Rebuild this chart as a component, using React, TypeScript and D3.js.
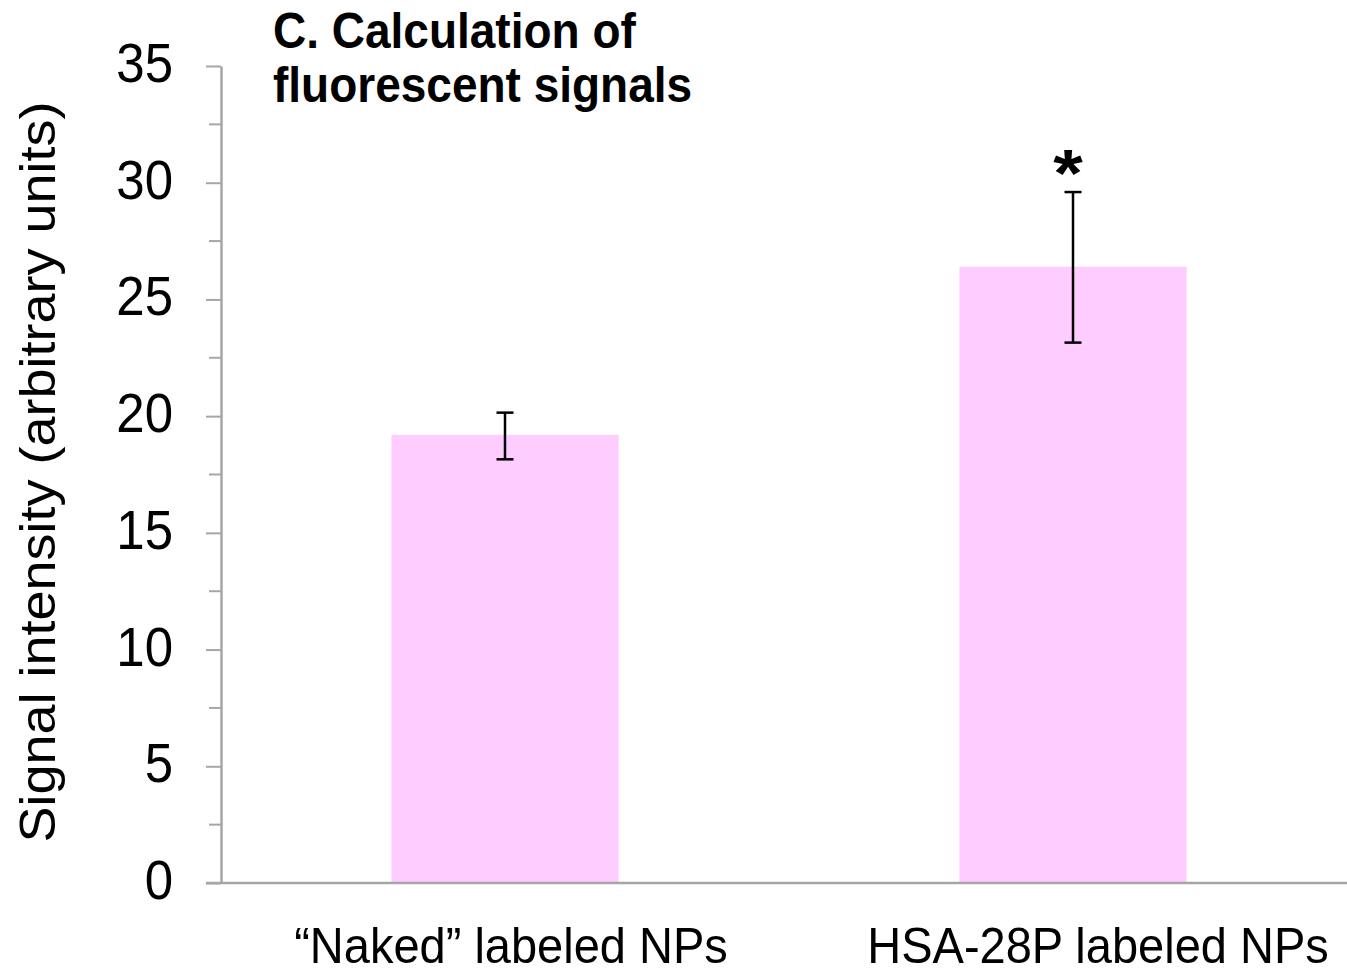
import React, { useRef, useEffect } from "react";
import * as d3 from "d3";

// chart data
const categories = ["\u201CNaked\u201D labeled NPs", "HSA-28P labeled NPs"];
const means = [19.2, 26.4];
const errLow = [18.15, 23.15];
const errHigh = [20.15, 29.6];
const significance = ["", "*"];
const yTicks = [0, 5, 10, 15, 20, 25, 30, 35];

const FONT = "Liberation Sans, Arial, sans-serif";
// the source picture is a bit stretched vertically
const STRETCH = 1.08;

function App() {
  const svgRef = useRef<SVGSVGElement>(null);
  const width = 1347;
  const height = 975;
  const margin = { top: 66, right: -10, bottom: 92, left: 221 };

  useEffect(() => {
    const svg = d3.select(svgRef.current);
    svg.selectAll("*").remove();

    const y = d3
      .scaleLinear()
      .domain([0, 35])
      .range([height - margin.bottom, margin.top]);
    const x = d3
      .scaleBand()
      .domain(categories)
      .range([margin.left, width - margin.right])
      .paddingInner(0.6)
      .paddingOuter(0.3);

    const axisColor = "#a6a6a6";

    // bars
    svg
      .selectAll(".bar")
      .data(categories)
      .enter()
      .append("rect")
      .attr("class", "bar")
      .attr("x", (d) => x(d)!)
      .attr("width", x.bandwidth())
      .attr("y", (_, i) => y(means[i]))
      .attr("height", (_, i) => y(0) - y(means[i]))
      .attr("fill", "#ffccff");

    // minor ticks
    const minor = d3.range(2.5, 35, 5);
    svg
      .selectAll(".minor")
      .data(minor)
      .enter()
      .append("line")
      .attr("x1", margin.left - 12)
      .attr("x2", margin.left)
      .attr("y1", (d) => y(d))
      .attr("y2", (d) => y(d))
      .attr("stroke", axisColor)
      .attr("stroke-width", 2);

    // y axis
    const yAxis = svg
      .append("g")
      .attr("transform", `translate(${margin.left},0)`)
      .call(d3.axisLeft(y).tickValues(yTicks).tickSize(15).tickPadding(33).tickSizeOuter(0));
    yAxis.select(".domain").attr("stroke", axisColor).attr("stroke-width", 2.5);
    yAxis.selectAll(".tick line").attr("stroke", axisColor).attr("stroke-width", 2);
    yAxis
      .selectAll(".tick text")
      .attr("fill", "#000")
      .attr("font-family", FONT)
      .attr("font-size", 51)
      .attr("dy", "0.28em")
      .attr("transform", `scale(1,${STRETCH})`);

    // x axis line
    svg
      .append("line")
      .attr("x1", margin.left - 15)
      .attr("x2", width)
      .attr("y1", y(0))
      .attr("y2", y(0))
      .attr("stroke", axisColor)
      .attr("stroke-width", 2.5);

    // error bars
    const cap = 8.5;
    categories.forEach((c, i) => {
      const cx = x(c)! + x.bandwidth() / 2;
      const g = svg.append("g").attr("stroke", "#000").attr("stroke-width", 2.5);
      g.append("line").attr("x1", cx).attr("x2", cx).attr("y1", y(errLow[i])).attr("y2", y(errHigh[i]));
      g.append("line").attr("x1", cx - cap).attr("x2", cx + cap).attr("y1", y(errLow[i])).attr("y2", y(errLow[i]));
      g.append("line").attr("x1", cx - cap).attr("x2", cx + cap).attr("y1", y(errHigh[i])).attr("y2", y(errHigh[i]));
      if (significance[i]) {
        svg
          .append("text")
          .attr("transform", `translate(${cx - 5},${y(errHigh[i]) + 4}) scale(1.15,1)`)
          .attr("text-anchor", "middle")
          .attr("font-family", FONT)
          .attr("font-weight", "bold")
          .attr("font-size", 66)
          .text(significance[i]);
      }
    });

    // category labels
    const labelOffsets = [6, 25];
    svg
      .selectAll(".cat")
      .data(categories)
      .enter()
      .append("text")
      .attr(
        "transform",
        (d, i) => `translate(${x(d)! + x.bandwidth() / 2 + labelOffsets[i]},963) scale(1,${STRETCH})`
      )
      .attr("text-anchor", "middle")
      .attr("font-family", FONT)
      .attr("font-size", 47)
      .text((d) => d);

    // y label
    svg
      .append("text")
      .attr("transform", `translate(55,472) rotate(-90) scale(${STRETCH},1)`)
      .attr("text-anchor", "middle")
      .attr("font-family", FONT)
      .attr("font-size", 50)
      .text("Signal intensity (arbitrary units)");

    // title
    const titleLines = ["C. Calculation of", "fluorescent signals"];
    titleLines.forEach((t, i) => {
      svg
        .append("text")
        .attr("transform", `translate(273,${48 + i * 54}) scale(1,${STRETCH})`)
        .attr("font-family", FONT)
        .attr("font-weight", "bold")
        .attr("font-size", 46)
        .text(t);
    });
  }, []);

  return (
    <svg
      ref={svgRef}
      width={width}
      height={height}
      style={{ position: "absolute", left: 0, top: 0, background: "#fff" }}
    />
  );
}

export default App;
